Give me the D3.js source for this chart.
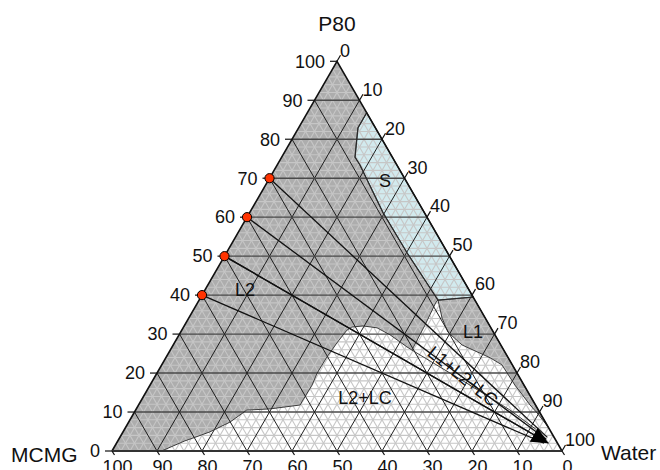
<!DOCTYPE html>
<html>
<head>
<meta charset="utf-8">
<script src="https://cdn.jsdelivr.net/npm/d3@7"></script>
<style>
  body { margin: 0; background: #fff; }
  svg { display: block; font-family: "Liberation Sans", Arial, sans-serif; }
</style>
</head>
<body>
<svg width="660" height="470"></svg>
<script>
// tick values / labels, same for all three axes
var ticks = [0, 10, 20, 30, 40, 50, 60, 70, 80, 90, 100];
var tickLabels = ["0", "10", "20", "30", "40", "50", "60", "70", "80", "90", "100"];

// starting compositions (P80 %, on the MCMG-P80 edge) of the dilution lines
var startP80 = [70, 60, 50, 40];
var endWater = 95;

// phase boundaries, each point is [P80 %, Water %]
var l2Region = [[0, 0], [0, 11], [2.6, 14.9], [3.3, 16.3], [4.9, 19.3], [7.4, 22.5], [10.5, 24.7],
  [10.8, 29.7], [11.8, 35.9], [13.1, 35.9], [16.9, 36.0], [20.0, 35.6], [24.1, 35.7], [27.7, 36.1],
  [31.0, 36.7], [31.8, 37.4], [32.1, 39.7], [31.6, 43.1], [29.8, 46.9], [26.7, 52.2], [25.9, 53.7],
  [32.3, 53.4], [38.2, 52.9], [38.7, 53.1], [50.8, 40.2], [61.1, 29.7], [73.4, 18.4],
  [75.4, 16.3], [82.9, 13.2], [86.8, 13.2], [100, 0]];
var sRegion = [[86.8, 13.2], [39.5, 60.5], [38.7, 53.1], [50.8, 40.2], [61.1, 29.7], [73.4, 18.4],
  [75.4, 16.3], [82.9, 13.2]];
var l1Region = [[38.7, 53.1], [39.5, 60.5], [6.2, 93.8], [9.75, 89.6], [11.8, 87.0], [16.9, 81.1],
  [22.1, 75.6], [23.9, 72.1], [27.2, 64.2], [30.5, 59.4], [34.1, 56.3]];
var l2lcEdge = [[25.9, 53.7], [16.9, 71.1], [10.5, 83.2], [5.4, 91.7]];

var regionNames = ["S", "L2", "L1", "L2+LC", "L1+L2+LC"];
var regionP80 = [69.3, 41.3, 30.5, 13.6, 19.2];
var regionWater = [26.0, 8.9, 65.0, 49.4, 68.4];
var regionAngle = [0, 0, 0, 0, 39];

var svg = d3.select("svg");

var xScale = d3.scaleLinear().domain([0, 100]).range([112, 562]);
var yScale = d3.scaleLinear().domain([0, 100]).range([451, 451 - 450 * Math.sqrt(3) / 2]);

// P80 / Water composition -> screen point
var pt = function(p, w) { return [xScale(w + p / 2), yScale(p)]; };
var line = d3.line().x(function(d) { return pt(d[0], d[1])[0]; })
                    .y(function(d) { return pt(d[0], d[1])[1]; });

var outline = [[0, 0], [0, 100], [100, 0]];

svg.append("path").attr("d", line(outline) + "Z").attr("fill", "#fff");

svg.append("path").attr("d", line(l2Region) + "Z").attr("fill", "#adadad");
svg.append("path").attr("d", line(l1Region) + "Z").attr("fill", "#adadad");
svg.append("path").attr("d", line(sRegion) + "Z").attr("fill", "#d2eaee");

// grid lines, 2 % minor and 10 % major
var gridLines = function(v) {
  return [
    [[v, 0], [v, 100 - v]],            // P80 const
    [[0, v], [100 - v, v]],            // Water const
    [[0, 100 - v], [100 - v, 0]]       // MCMG const
  ];
};
var minor = d3.range(2, 100, 2).filter(function(v) { return v % 10 != 0; });
var grid = svg.append("g");
minor.forEach(function(v) {
  gridLines(v).forEach(function(seg) {
    grid.append("path").attr("d", line(seg)).attr("stroke", "#c6c6c6")
        .attr("stroke-width", 1.1).attr("fill", "none");
  });
});
ticks.slice(1, -1).forEach(function(v) {
  gridLines(v).forEach(function(seg, i) {
    grid.append("path").attr("d", line(seg))
        .attr("stroke", i == 0 ? "#4a4a4a" : "#1e1e1e")
        .attr("stroke-width", i == 0 ? 1.4 : 1).attr("fill", "none");
  });
});

// boundaries
var bnd = svg.append("g").attr("fill", "none").attr("stroke", "#2a2a2a").attr("stroke-width", 0.9);
bnd.append("path").attr("d", line(l2Region.slice(1, -1)));
bnd.append("path").attr("d", line(sRegion) + "Z").attr("stroke-width", 1.2);
bnd.append("path").attr("d", line(l1Region) + "Z");
bnd.append("path").attr("d", line(l2lcEdge));

// dilution lines
svg.append("defs").append("marker")
   .attr("id", "arrow").attr("markerUnits", "userSpaceOnUse")
   .attr("markerWidth", 20).attr("markerHeight", 16)
   .attr("refX", 17).attr("refY", 8).attr("orient", "auto")
   .append("path").attr("d", "M0,0 L17,8 L0,16 Z").attr("fill", "#000");

var dil = svg.append("g").attr("fill", "none").attr("stroke", "#111").attr("stroke-width", 1.3);
startP80.forEach(function(p) {
  var f = (100 - endWater) / 100;
  dil.append("path").attr("d", line([[p, 0], [p * f, endWater]]));
});
var p50 = startP80[2];
dil.append("path").attr("d", line([[p50, 0], [p50 * 0.04, 96]])).attr("marker-end", "url(#arrow)");

// triangle outline
svg.append("path").attr("d", line([[0, 0], [100, 0], [0, 100]])).attr("fill", "none")
   .attr("stroke", "#111").attr("stroke-width", 1.6);
svg.append("path").attr("d", line([[0, 0], [0, 100]])).attr("fill", "none")
   .attr("stroke", "#333").attr("stroke-width", 2);

// ticks and tick labels
var ax = svg.append("g").attr("font-size", 18).attr("fill", "#111");
ticks.forEach(function(v, i) {
  // P80 (left)
  var a = pt(v, 0);
  ax.append("line").attr("x1", a[0] - 7).attr("x2", a[0]).attr("y1", a[1]).attr("y2", a[1])
    .attr("stroke", "#111").attr("stroke-width", 1.2);
  ax.append("text").attr("x", a[0] - 12).attr("y", a[1]).attr("text-anchor", "end")
    .attr("dy", "0.35em").text(tickLabels[i]);
  // Water (right)
  var b = pt(100 - v, v);
  ax.append("line").attr("x1", b[0]).attr("y1", b[1]).attr("x2", b[0] + 3.5).attr("y2", b[1] - 6)
    .attr("stroke", "#111").attr("stroke-width", 1.2);
  ax.append("text").attr("x", b[0] + 3).attr("y", b[1] - 11).attr("dy", "0.35em").text(tickLabels[i]);
  // MCMG (bottom)
  var c = pt(0, 100 - v);
  ax.append("line").attr("x1", c[0]).attr("y1", c[1]).attr("x2", c[0] + 2.5).attr("y2", c[1] + 4)
    .attr("stroke", "#111").attr("stroke-width", 1.2);
  ax.append("text").attr("x", c[0] + 5.5).attr("y", c[1] + 22).attr("text-anchor", "middle").text(tickLabels[i]);
});

// axis titles
var tt = svg.append("g").attr("font-size", 21).attr("fill", "#111");
tt.append("text").attr("x", pt(100, 0)[0]).attr("y", 31).attr("text-anchor", "middle").text("P80");
tt.append("text").attr("x", 11).attr("y", 461.5).text("MCMG");
tt.append("text").attr("x", 601).attr("y", 460).text("Water");

// region labels
regionNames.forEach(function(n, i) {
  var q = pt(regionP80[i], regionWater[i]);
  svg.append("text").attr("transform", "translate(" + q[0] + "," + q[1] + ") rotate(" + regionAngle[i] + ")")
     .attr("text-anchor", "middle").attr("dy", "0.35em").attr("font-size", 18).attr("fill", "#111").text(n);
});

// starting points
svg.selectAll("circle.start").data(startP80).enter().append("circle")
   .attr("cx", function(d) { return pt(d, 0)[0]; })
   .attr("cy", function(d) { return pt(d, 0)[1]; })
   .attr("r", 4.6).attr("fill", "#ff3300").attr("stroke", "#000").attr("stroke-width", 1);
</script>
</body>
</html>
